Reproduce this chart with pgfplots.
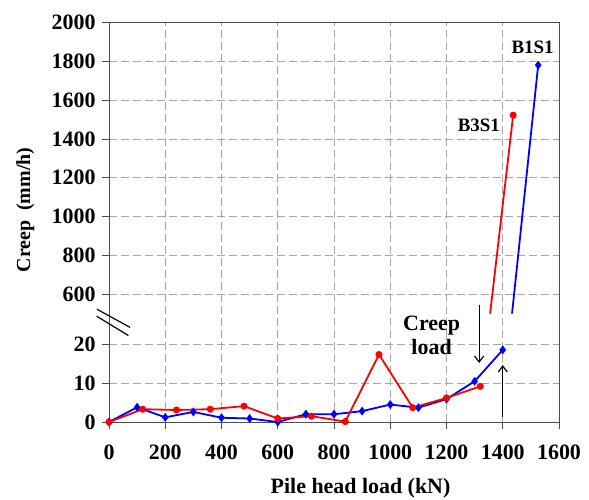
\documentclass[border=0pt]{standalone}
\usepackage{pgfplots}
\pgfplotsset{compat=1.18}
\usepackage{fontspec}
\setmainfont{Liberation Serif}
\usetikzlibrary{arrows.meta}

% broken y axis: 0..20 kept as is, 600..2000 squeezed 20:1 above a gap
\pgfplotsset{
  ticklabel style={font=\fontsize{22}{22}\selectfont\bfseries},
}

\begin{document}
\begin{tikzpicture}
\begin{axis}[
  at={(0,0)}, anchor=south west,
  scale only axis, width=450bp, height=399.3bp,
  clip=false,
  xmin=0, xmax=1600, ymin=0, ymax=2000,
  y coord trafo/.code={\pgfmathparse{#1<100 ? #1 : 33+(#1-600)/20}},
  xtick={0,200,...,1600},
  xticklabels={0,200,400,600,800,1000,1200,1400,1600},
  ytick={0,10,20,600,800,1000,1200,1400,1600,1800,2000},
  yticklabels={0,10,20,600,800,1000,1200,1400,1600,1800,2000},
  xtick pos=bottom, ytick pos=left,
  tick align=outside, major tick length=7bp,
  tick style={black!70, line width=0.8bp},
  axis line style={black!70, line width=0.8bp},
  grid=major,
  major grid style={gray!70, dash pattern=on 8bp off 4bp, line width=0.8bp},
  xticklabel style={yshift=-12.5bp},
  yticklabel style={xshift=-3bp},
  xlabel={Pile head load (kN)},
  ylabel={Creep~~(mm/h)},
  xlabel style={font=\fontsize{22}{22}\selectfont\bfseries,
    at={(axis description cs:0.559,-0.167)}, anchor=center},
  ylabel style={font=\fontsize{20}{20}\selectfont\bfseries,
    at={(axis description cs:-0.186,0.531)}, anchor=center},
]
% B1S1
\addplot[blue, line width=1.8bp, mark=diamond*, mark size=3bp] coordinates {
  (0,0) (100,3.8) (200,1.2) (300,2.6) (400,1.1) (500,0.9) (600,0) (700,2.0)
  (800,2.0) (900,2.8) (1000,4.5) (1100,3.7) (1200,5.9) (1300,10.5) (1400,18.6)};
\addplot[blue, line width=1.8bp, mark=diamond*, mark size=3bp, mark indices={2}]
  coordinates {(1433,499) (1526,1781)};
% B3S1
\addplot[red, line width=1.8bp, mark=*, mark size=2.6bp] coordinates {
  (0,0) (120,3.3) (240,3.1) (360,3.3) (480,4.1) (600,0.9) (720,1.5) (840,0.1)
  (960,17.4) (1080,3.7) (1200,6.2) (1320,9.2)};
\addplot[red, line width=1.8bp, mark=*, mark size=2.6bp, mark indices={2}]
  coordinates {(1355,499) (1437,1523)};

% axis break
\draw[black, line width=1.2bp] (axis cs:-43,29.1) -- (axis cs:75,24.4);
\draw[black, line width=1.2bp] (axis cs:-44,27.3) -- (axis cs:69,22.3);

% annotations
\node[font=\fontsize{22}{24.5}\selectfont\bfseries, align=center]
  at (axis cs:1147,22.3) {Creep\\load};
\draw[line width=1.2bp, -{Straight Barb[length=6bp,width=9bp]}]
  (axis cs:1316,30.2) -- (axis cs:1316,15.2);
\draw[line width=1.2bp, -{Straight Barb[length=6bp,width=9bp]}]
  (axis cs:1400,1.4) -- (axis cs:1400,14.7);
\node[font=\fontsize{19}{19}\selectfont\bfseries] at (axis cs:1506,1873) {B1S1};
\node[font=\fontsize{19}{19}\selectfont\bfseries] at (axis cs:1315,1470) {B3S1};
\end{axis}
\pgfresetboundingbox
\path (-109bp,-78bp) rectangle (480bp,422bp);
\end{tikzpicture}
\end{document}
